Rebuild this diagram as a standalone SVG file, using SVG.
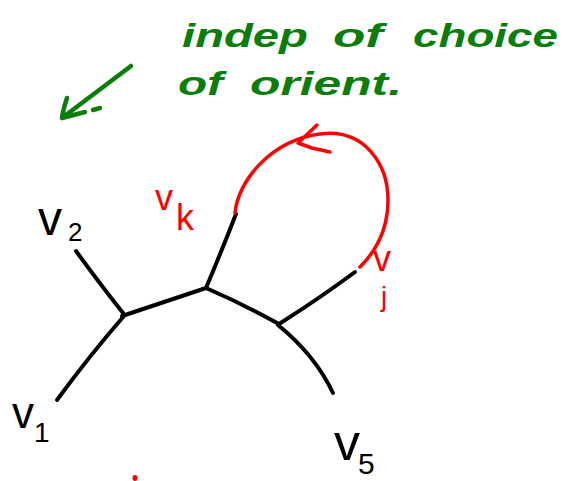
<svg xmlns="http://www.w3.org/2000/svg" width="566" height="481" viewBox="0 0 566 481">
<style>
.blk{fill:none;stroke:#000;stroke-width:4;stroke-linecap:round;stroke-linejoin:round}
.red{fill:none;stroke:#ff0000;stroke-width:3.5;stroke-linecap:round;stroke-linejoin:round}
.grn{fill:none;stroke:#0a7d0a;stroke-width:4.5;stroke-linecap:round;stroke-linejoin:round}
.t{font-family:"Liberation Sans",Arial,sans-serif}
.tb{fill:#000}
.tr{fill:#ff0000}
.tg{fill:#0a7d0a;font-size:34px;font-weight:bold;font-style:italic}
</style>
<rect width="566" height="481" fill="#fff"/>
<g id="note">
<text class="t tg" y="47"><tspan x="182" textLength="126" lengthAdjust="spacingAndGlyphs">indep</tspan><tspan x="333" textLength="50" lengthAdjust="spacingAndGlyphs">of</tspan><tspan x="413" textLength="145" lengthAdjust="spacingAndGlyphs">choice</tspan></text>
<text class="t tg" y="95"><tspan x="178" textLength="45" lengthAdjust="spacingAndGlyphs">of</tspan><tspan x="250" textLength="152" lengthAdjust="spacingAndGlyphs">orient.</tspan></text>
<path class="grn" d="M131,66 L62,118 M67,98 Q63,110 62,118 L85,112 M93,110 L100,108"/>
</g>
<g id="connectors">
<path class="blk" d="M76,251 Q100,284 123,313"/>
<path class="blk" d="M57,400 Q90,355 124,316"/>
<path class="blk" d="M122,316 L206,288"/>
<path class="blk" d="M206,288 Q222,250 236,214"/>
<path class="blk" d="M206,288 Q245,305 279,324"/>
<path class="blk" d="M279,324 Q320,298 355,272"/>
<path class="blk" d="M278,325 Q315,355 333,393"/>
<path class="red" d="M235,213 C238,180 272,140 320,134 C365,128 388,165 388,200 C388,235 372,255 360,267"/>
<path class="red" d="M317,125 L298,143 L312,148 L330,152"/>
</g>
<g id="v2"><text class="t tb" x="38" y="235" font-size="48">v</text><text class="t tb" x="68" y="241" font-size="26">2</text></g>
<g id="v1"><text class="t tb" x="12" y="428" font-size="44">v</text><text class="t tb" x="34" y="442" font-size="28">1</text></g>
<g id="v5"><text class="t tb" x="334" y="460" font-size="52">v</text><text class="t tb" x="358" y="474" font-size="30">5</text></g>
<g id="vk"><text class="t tr" x="155" y="210" font-size="36">v</text><text class="t tr" x="176" y="230" font-size="36">k</text></g>
<g id="vj"><text class="t tr" x="373" y="271" font-size="36">v</text><text class="t tr" x="381" y="306" font-size="28">j</text></g>
<ellipse cx="135" cy="478" rx="2.5" ry="3" fill="#ff0000"/>
</svg>
